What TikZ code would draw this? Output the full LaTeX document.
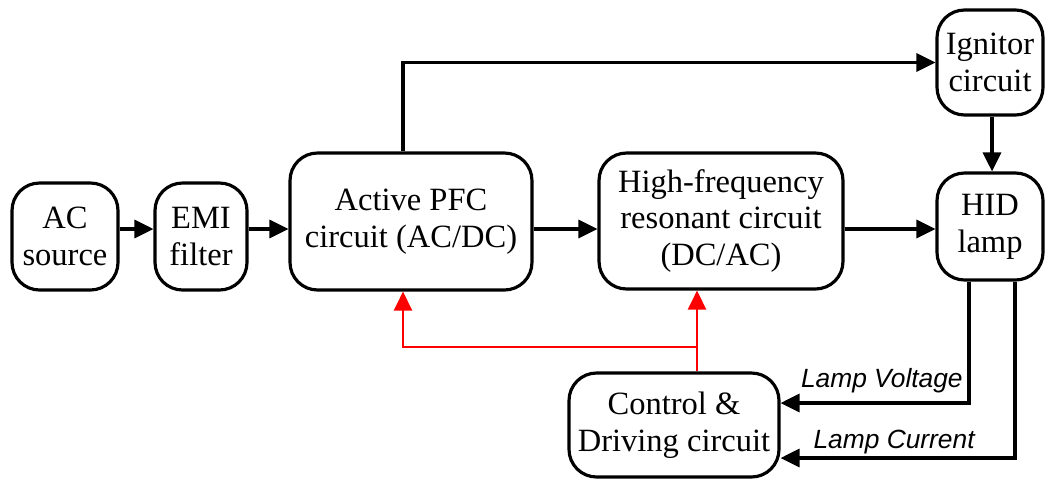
\documentclass[tikz,border=0pt]{standalone}
\usepackage{fontspec}
\setmainfont{Liberation Serif}
\setsansfont{Liberation Sans}
\usetikzlibrary{arrows.meta,positioning,calc}

\tikzset{
	blk/.style={draw, line width=1.8pt, rounded corners=0.55cm, align=center,
		inner sep=0pt, font=\fontsize{18.5}{21}\selectfont},
	arr/.style={line width=1.9pt, -{Triangle[length=0.38cm,width=0.36cm]}},
	redarr/.style={arr, red, line width=1.5pt},
	lbl/.style={inner sep=0pt, font=\fontsize{15}{17}\selectfont\sffamily\itshape},
}

\begin{document}
\begin{tikzpicture}[x=0.02cm, y=-0.02cm]

		% === page bounds ===
		\useasboundingbox (0,0) rectangle (1047,480);

		% === Blocks ===
		\node[blk, minimum width=2.12cm, minimum height=2.14cm] (acsrc) at (65,236.5)  {AC\\source};
		\node[blk, minimum width=1.84cm, minimum height=2.14cm] (emi)   at (201,236.5) {EMI\\filter};
		\node[blk, minimum width=4.84cm, minimum height=2.74cm] (pfc)   at (411,221.5) {Active PFC\\circuit (AC/DC)};
		\node[blk, minimum width=4.88cm, minimum height=2.72cm] (hf)    at (721,221)   {High-frequency\\resonant circuit\\(DC/AC)};
		\node[blk, minimum width=2.12cm, minimum height=2.10cm] (ign)   at (990,62.5)  {Ignitor\\circuit};
		\node[blk, minimum width=2.12cm, minimum height=2.14cm] (hid)   at (990,226.5) {HID\\lamp};
		\node[blk, minimum width=4.20cm, minimum height=2.08cm] (ctrl)  at (674,425)   {Control \&\\Driving circuit};

		% === helper points ===
		\coordinate (row) at (0,229);		% main signal row
		\coordinate (tap) at (403,62);		% PFC output to ignitor
		\coordinate (fb)  at (697,347);		% feedback bus
		\coordinate (vx)  at (969,403);		% lamp voltage sense
		\coordinate (ix)  at (1015,458);	% lamp current sense

		% === Power path ===
		\draw[arr] (acsrc.east |- row) -- (emi.west |- row);
		\draw[arr] (emi.east |- row) -- (pfc.west |- row);
		\draw[arr] (pfc.east |- row) -- (hf.west |- row);
		\draw[arr] (hf.east |- row) -- (hid.west |- row);
		\draw[arr] (pfc.north -| tap) |- (ign.west);
		\draw[arr] (ign.south -| 992,0) -- (hid.north -| 992,0);

		% === Feedback / drive ===
		\draw[redarr] (ctrl.north -| fb) -- (hf.south -| fb);
		\draw[redarr] (fb) -| (pfc.south -| tap);
		\draw[arr] (hid.south -| vx) |- (ctrl.east |- vx);
		\draw[arr] (hid.south -| ix) |- (ctrl.east |- ix);

		% === Sense labels ===
		\node[lbl, anchor=base east] (vlbl) at (963,387) {Lamp Voltage};
		\node[lbl, anchor=base east] (ilbl) at (975,448) {Lamp Current};
	\end{tikzpicture}
\end{document}
